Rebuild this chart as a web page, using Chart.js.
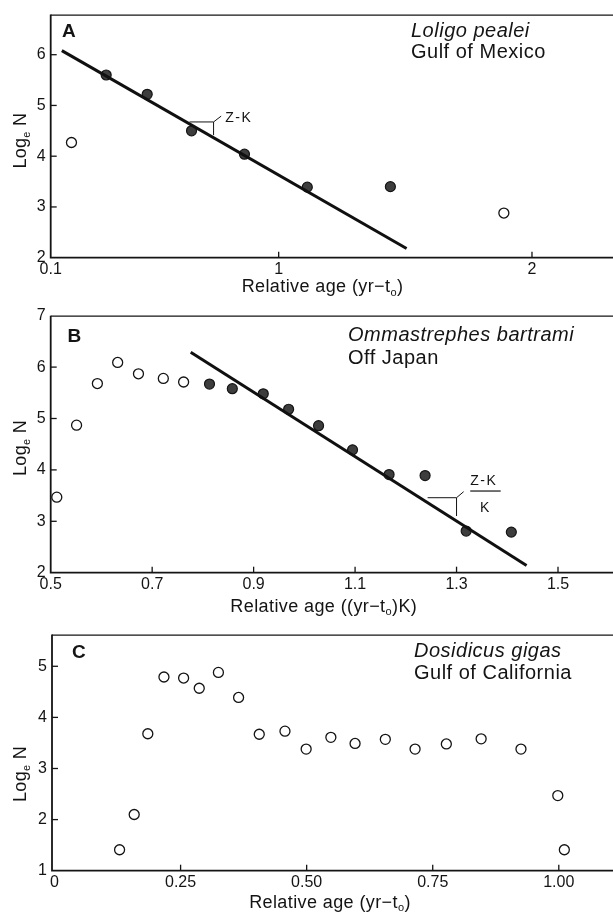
<!DOCTYPE html>
<html>
<head>
<meta charset="utf-8">
<script src="https://cdn.jsdelivr.net/npm/chart.js@4"></script>
<style>
  html, body { margin: 0; padding: 0; background: #fff; }
  body { width: 613px; height: 913px; position: relative; overflow: hidden; }
  canvas { position: absolute; left: 0; }
</style>
</head>
<body>
<canvas id="chartA" width="613" height="300" style="top:0"></canvas>
<canvas id="chartB" width="613" height="320" style="top:300px"></canvas>
<canvas id="chartC" width="613" height="293" style="top:620px"></canvas>
<script>
const FONT = "'Liberation Sans', Arial, sans-serif";
const INK = '#141414';

// ---- A: Loligo pealei, Gulf of Mexico ----
const aFilledX = [0.319, 0.481, 0.656, 0.865, 1.113, 1.441];
const aFilledY = [5.60, 5.22, 4.50, 4.04, 3.39, 3.40];
const aOpenX = [0.182, 1.889];
const aOpenY = [4.27, 2.88];
const aFitX = [0.144, 1.505];
const aFitY = [6.08, 2.18];
const aXTicks = [0.1, 1, 2];
const aXLabels = ['0.1', '1', '2'];
const aYTicks = [2, 3, 4, 5, 6];
const aBracketX = [0.648, 0.743, 0.773];   // horizontal start, corner, tick end
const aBracketY = [4.675, 4.415, 4.79];    // horizontal level, vertical foot, tick end
const aNoteAt = [0.789, 4.68];

// ---- B: Ommastrephes bartrami, Off Japan ----
const bOpenX = [0.512, 0.551, 0.592, 0.632, 0.673, 0.722, 0.762];
const bOpenY = [3.47, 4.87, 5.68, 6.09, 5.87, 5.78, 5.71];
const bFilledX = [0.813, 0.858, 0.919, 0.969, 1.028, 1.095, 1.167, 1.238, 1.319, 1.408];
const bFilledY = [5.67, 5.58, 5.48, 5.18, 4.86, 4.39, 3.91, 3.89, 2.81, 2.79];
const bFitX = [0.776, 1.438];
const bFitY = [6.29, 2.14];
const bXTicks = [0.5, 0.7, 0.9, 1.1, 1.3, 1.5];
const bXLabels = ['0.5', '0.7', '0.9', '1.1', '1.3', '1.5'];
const bYTicks = [2, 3, 4, 5, 6, 7];
const bBracketX = [1.243, 1.300, 1.314];
const bBracketY = [3.459, 3.103, 3.576];
const bNoteX = [1.327, 1.387, 1.357];      // text left, bar end, K centre
const bNoteY = [3.706, 3.589, 3.187];      // Z-K baseline, bar, K baseline

// ---- C: Dosidicus gigas, Gulf of California ----
const cOpenX = [0.129, 0.158, 0.185, 0.217, 0.256, 0.287, 0.325, 0.365, 0.406, 0.457,
                0.499, 0.548, 0.596, 0.656, 0.715, 0.777, 0.846, 0.925, 0.998, 1.011];
const cOpenY = [1.41, 2.10, 3.68, 4.79, 4.77, 4.57, 4.88, 4.39, 3.67, 3.73,
                3.38, 3.61, 3.49, 3.57, 3.38, 3.48, 3.58, 3.38, 2.47, 1.41];
const cXTicks = [0, 0.25, 0.5, 0.75, 1];
const cXLabels = ['0', '0.25', '0.50', '0.75', '1.00'];
const cYTicks = [1, 2, 3, 4, 5];

const pts = (xs, ys) => xs.map((x, i) => ({ x, y: ys[i] }));

function drawRich(ctx, parts, cx, cy, size, spacing) {
  ctx.letterSpacing = spacing + 'px';
  const fonts = parts.map(p => (p[1] ? Math.round(size * 0.6) : size) + 'px ' + FONT);
  const widths = parts.map((p, i) => { ctx.font = fonts[i]; return ctx.measureText(p[0]).width; });
  let x = cx - widths.reduce((a, b) => a + b, 0) / 2;
  ctx.textAlign = 'left';
  ctx.textBaseline = 'middle';
  parts.forEach((p, i) => {
    ctx.font = fonts[i];
    ctx.fillText(p[0], x, cy + (p[1] ? size * 0.28 : 0));
    x += widths[i];
  });
}

const decor = {
  id: 'decor',
  afterDatasetsDraw(chart, args, o) {
    const { ctx, chartArea: a, scales: { x, y } } = chart;
    ctx.save();
    ctx.strokeStyle = INK;
    ctx.fillStyle = INK;

    // frame: top, left, bottom (open on the right)
    ctx.lineWidth = 1.2;
    ctx.beginPath();
    ctx.moveTo(chart.width, a.top + 0.5);
    ctx.lineTo(a.left, a.top + 0.5);
    ctx.stroke();
    ctx.lineWidth = 1.8;
    ctx.beginPath();
    ctx.moveTo(a.left, a.top);
    ctx.lineTo(a.left, a.bottom);
    ctx.lineTo(chart.width, a.bottom);
    ctx.stroke();

    // inward tick marks
    ctx.lineWidth = 1.3;
    x.ticks.forEach(t => {
      const px = x.getPixelForValue(t.value);
      if (px - a.left < 4) return;
      ctx.beginPath(); ctx.moveTo(px, a.bottom); ctx.lineTo(px, a.bottom - 6); ctx.stroke();
    });
    y.ticks.forEach(t => {
      const py = y.getPixelForValue(t.value);
      if (a.bottom - py < 4 || py - a.top < 4) return;
      ctx.beginPath(); ctx.moveTo(a.left, py); ctx.lineTo(a.left + 6, py); ctx.stroke();
    });

    // panel letter
    ctx.letterSpacing = '0px';
    ctx.font = 'bold 19px ' + FONT;
    ctx.textAlign = 'left';
    ctx.textBaseline = 'alphabetic';
    ctx.fillText(o.letter, o.letterAt[0], o.letterAt[1]);

    // species / locality
    ctx.letterSpacing = '0.5px';
    ctx.font = 'italic 20px ' + FONT;
    ctx.fillText(o.species, o.speciesAt[0], o.speciesAt[1]);
    ctx.font = '20px ' + FONT;
    ctx.fillText(o.place, o.speciesAt[0], o.speciesAt[2]);

    // axis titles
    drawRich(ctx, o.xTitle, o.xTitleAt[0], o.xTitleAt[1], 18, 0.4);
    ctx.save();
    ctx.translate(o.yTitleAt[0], o.yTitleAt[1]);
    ctx.rotate(-Math.PI / 2);
    drawRich(ctx, [['Log'], ['e', true], [' N']], 0, 0, 18, 0.3);
    ctx.restore();

    if (o.note) o.note(ctx, x, y);
    ctx.restore();
  }
};

function bracket(ctx, x, y, bx, by) {
  const x0 = x.getPixelForValue(bx[0]), x1 = x.getPixelForValue(bx[1]), x2 = x.getPixelForValue(bx[2]);
  const yh = y.getPixelForValue(by[0]), yv = y.getPixelForValue(by[1]), yd = y.getPixelForValue(by[2]);
  ctx.lineWidth = 1;
  ctx.beginPath();
  ctx.moveTo(x0, yh); ctx.lineTo(x1, yh); ctx.lineTo(x1, yv);
  ctx.moveTo(x1, yh); ctx.lineTo(x2, yd);
  ctx.stroke();
}

function makeChart(id, datasets, sx, sy, decorOpts) {
  return new Chart(document.getElementById(id), {
    type: 'scatter',
    data: { datasets },
    options: {
      responsive: false,
      animation: false,
      events: [],
      layout: { padding: { top: decorOpts.top, left: 0, right: 0, bottom: 0 } },
      plugins: { legend: { display: false }, tooltip: { enabled: false }, decor: decorOpts },
      scales: {
        x: {
          type: 'linear', min: sx.min, max: sx.max,
          grid: { display: false, drawTicks: false }, border: { display: false },
          afterBuildTicks: s => { s.ticks = sx.ticks.map(v => ({ value: v })); },
          afterFit: s => { s.height = sx.height; },
          ticks: { autoSkip: false, maxRotation: 0, padding: 2, color: INK,
                   font: { family: FONT, size: 16 },
                   callback: (v, i) => sx.labels[i] }
        },
        y: {
          type: 'linear', min: sy.min, max: sy.max,
          grid: { display: false, drawTicks: false }, border: { display: false },
          afterBuildTicks: s => { s.ticks = sy.ticks.map(v => ({ value: v })); },
          afterFit: s => { s.width = sy.width; },
          ticks: { padding: 5, color: INK, font: { family: FONT, size: 16 },
                   callback: v => String(v) }
        }
      }
    },
    plugins: [decor]
  });
}

const fitStyle = { type: 'line', showLine: true, borderColor: '#101010', borderWidth: 3,
                   pointRadius: 0, fill: false };
const openStyle = { pointRadius: 5, pointBackgroundColor: '#fff', pointBorderColor: INK,
                    pointBorderWidth: 1.3 };
const filledStyle = { pointRadius: 5, pointBackgroundColor: '#3d3d3d', pointBorderColor: '#151515',
                      pointBorderWidth: 1.2 };

const ageTitle = [['Relative age (yr\u2212t'], ['o', true], [')']];

makeChart('chartA', [
  Object.assign({ data: pts(aFitX, aFitY) }, fitStyle),
  Object.assign({ data: pts(aFilledX, aFilledY) }, filledStyle),
  Object.assign({ data: pts(aOpenX, aOpenY) }, openStyle)
], { min: 0.1, max: 2.295, ticks: aXTicks, labels: aXLabels, height: 42.3 },
   { min: 2, max: 6.79, ticks: aYTicks, width: 50.7 },
   { top: 12.7, letter: 'A', letterAt: [62, 37], species: 'Loligo pealei', place: 'Gulf of Mexico',
     speciesAt: [411, 36.7, 57.5], xTitle: ageTitle, xTitleAt: [322.5, 287.5], yTitleAt: [21.5, 140.6],
     note: (ctx, x, y) => {
       bracket(ctx, x, y, aBracketX, aBracketY);
       ctx.letterSpacing = '1.5px';
       ctx.font = '14px ' + FONT;
       ctx.textAlign = 'left';
       ctx.textBaseline = 'alphabetic';
       ctx.fillText('Z-K', x.getPixelForValue(aNoteAt[0]), y.getPixelForValue(aNoteAt[1]));
     } });

makeChart('chartB', [
  Object.assign({ data: pts(bFitX, bFitY) }, fitStyle),
  Object.assign({ data: pts(bFilledX, bFilledY) }, filledStyle),
  Object.assign({ data: pts(bOpenX, bOpenY) }, openStyle)
], { min: 0.5, max: 1.596, ticks: bXTicks, labels: bXLabels, height: 47.3 },
   { min: 2, max: 7, ticks: bYTicks, width: 50.7 },
   { top: 15.7, letter: 'B', letterAt: [67.5, 42], species: 'Ommastrephes bartrami', place: 'Off Japan',
     speciesAt: [348, 40.7, 64.3], xTitle: [['Relative age ((yr\u2212t'], ['o', true], [')K)']],
     xTitleAt: [323.8, 307], yTitleAt: [21.5, 148],
     note: (ctx, x, y) => {
       bracket(ctx, x, y, bBracketX, bBracketY);
       ctx.letterSpacing = '1.5px';
       ctx.font = '14px ' + FONT;
       ctx.textAlign = 'left';
       ctx.textBaseline = 'alphabetic';
       ctx.fillText('Z-K', x.getPixelForValue(bNoteX[0]), y.getPixelForValue(bNoteY[0]));
       ctx.textAlign = 'center';
       ctx.fillText('K', x.getPixelForValue(bNoteX[2]), y.getPixelForValue(bNoteY[2]));
       const yb = y.getPixelForValue(bNoteY[1]);
       ctx.lineWidth = 1.2;
       ctx.beginPath();
       ctx.moveTo(x.getPixelForValue(bNoteX[0]), yb);
       ctx.lineTo(x.getPixelForValue(bNoteX[1]), yb);
       ctx.stroke();
     } });

makeChart('chartC', [
  Object.assign({ data: pts(cOpenX, cOpenY) }, openStyle)
], { min: -0.005, max: 1.095, ticks: cXTicks, labels: cXLabels, height: 42.3 },
   { min: 1, max: 5.62, ticks: cYTicks, width: 52 },
   { top: 12.3, letter: 'C', letterAt: [72, 38.3], species: 'Dosidicus gigas', place: 'Gulf of California',
     speciesAt: [414, 37.3, 59.3], xTitle: ageTitle, xTitleAt: [330, 283.3], yTitleAt: [21.5, 154] });
</script>
</body>
</html>
